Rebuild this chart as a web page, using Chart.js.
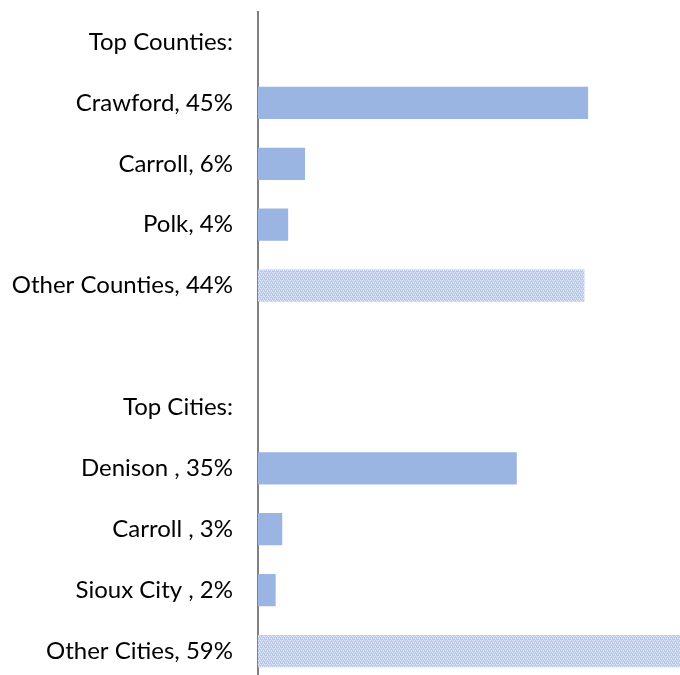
<!DOCTYPE html>
<html>
<head>
<meta charset="utf-8">
<script src="https://cdn.jsdelivr.net/npm/chart.js@4"></script>
<style>
  html, body { margin: 0; padding: 0; background: #fff; overflow: hidden; }
  #wrap { position: relative; width: 680px; height: 690px; }
</style>
</head>
<body>
<div id="wrap"><canvas id="chart"></canvas></div>
<script>
// rows top to bottom, blank strings are header / spacer rows
let categories = ['Top Counties:', 'Crawford, 45%', 'Carroll, 6%', 'Polk, 4%', 'Other Counties, 44%',
  '', 'Top Cities:', 'Denison , 35%', 'Carroll , 3%', 'Sioux City , 2%', 'Other Cities, 59%'];
let shares = [null, 44.9, 6.4, 4.1, 44.4, null, null, 35.2, 3.3, 2.4, 59];
let isOther = [false, false, false, false, true, false, false, false, false, false, true];

// checkered fill for the "Other" bars
function makePattern() {
  let c = document.createElement('canvas');
  c.width = 4; c.height = 4;
  let p = c.getContext('2d');
  p.fillStyle = '#b6c9ec';
  p.fillRect(0, 0, 4, 4);
  p.fillStyle = '#e6edfa';
  p.fillRect(0, 0, 1, 1);
  p.fillRect(2, 0, 1, 1);
  p.fillRect(1, 2, 1, 1);
  p.fillRect(3, 2, 1, 1);
  p.fillStyle = '#cfdcf4';
  p.fillRect(1, 1, 1, 1);
  p.fillRect(3, 3, 1, 1);
  return p.createPattern(c, 'repeat');
}
let otherFill = makePattern();

let myChart = new Chart(document.getElementById('chart'), {
  type: 'bar',
  data: {
    labels: categories,
    datasets: [{
      data: shares,
      backgroundColor: isOther.map(o => o ? otherFill : '#9bb5e3'),
      borderWidth: 0,
      categoryPercentage: 1,
      barPercentage: 0.53
    }]
  },
  options: {
    indexAxis: 'y',
    responsive: true,
    maintainAspectRatio: false,
    animation: false,
    layout: { padding: { top: 11.5, bottom: 8.5, left: 0, right: 0 } },
    plugins: { legend: { display: false }, tooltip: { enabled: false } },
    scales: {
      x: { display: false, min: 0, max: 57.4 },
      y: {
        afterFit: s => {
          s.width = 258;
          s.paddingTop = 0;
          s.paddingBottom = 0;
        },
        grid: { display: true, color: 'rgba(0,0,0,0)', drawTicks: false },
        border: { display: true, color: '#808080', width: 2 },
        ticks: {
          color: '#000',
          padding: 25,
          font: { family: 'Lato', size: 24 }
        }
      }
    }
  }
});
</script>
</body>
</html>
